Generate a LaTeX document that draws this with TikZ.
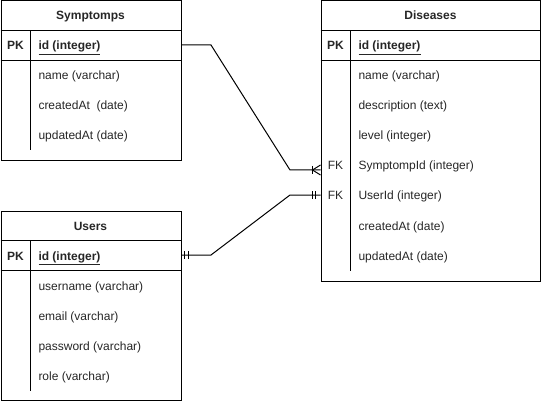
\documentclass[tikz,border=0pt]{standalone}
\usepackage{fontspec}
\setmainfont{Liberation Sans}

\begin{document}
\begin{tikzpicture}[
  x=1pt, y=-1pt,
  line width=1pt,
  every node/.style={
    font=\fontsize{12}{14}\selectfont, text=black!85,
  },
  table/.style={
    draw, rectangle, inner sep=0pt, anchor=north west,
  },
  title/.style={
    anchor=base, inner sep=0pt, font=\fontsize{12}{14}\selectfont\bfseries,
  },
  key/.style={
    anchor=base, inner sep=0pt,
  },
  pkey/.style={
    key, font=\fontsize{12}{14}\selectfont\bfseries,
  },
  field/.style={
    anchor=base west, inner sep=0pt,
  },
  pfield/.style={
    field, font=\fontsize{12}{14}\selectfont\bfseries,
  }
  ]
  \useasboundingbox (0,0) rectangle (541,401);

  % Symptomps
  \node[table, minimum width=180pt, minimum height=160pt] (symptomps) at (0.5,0.5) {};
  \draw (symptomps.north west) ++(0,30) -- ++(180,0) ++(-180,30) -- ++(180,0);
  \draw (symptomps.north west) ++(30,30) -- ++(0,120);
  \node[title] (symptomps-title) at (90.5,20) {Symptomps};
  \node[pkey] (symptomps-pk) at (15.5,50) {PK};
  \node[pfield] (symptomps-id) at (38,50) {\underline{id (integer)}};
  \node[field] (symptomps-name) at (38,80) {name (varchar)};
  \node[field] (symptomps-created) at (38,110) {createdAt\ \ (date)};
  \node[field] (symptomps-updated) at (38,140) {updatedAt (date)};

  % Users
  \node[table, minimum width=180pt, minimum height=189.5pt] (users) at (0.5,210.5) {};
  \draw (users.north west) ++(0,30) -- ++(180,0) ++(-180,30) -- ++(180,0);
  \draw (users.north west) ++(30,30) -- ++(0,150);
  \node[title] (users-title) at (90.5,230) {Users};
  \node[pkey] (users-pk) at (15.5,260) {PK};
  \node[pfield] (users-id) at (38,260) {\underline{id (integer)}};
  \node[field] (users-username) at (38,290) {username (varchar)};
  \node[field] (users-email) at (38,320) {email (varchar)};
  \node[field] (users-password) at (38,350) {password (varchar)};
  \node[field] (users-role) at (38,380) {role (varchar)};

  % Diseases
  \node[table, minimum width=219.5pt, minimum height=280pt] (diseases) at (320.5,0.5) {};
  \draw (diseases.north west) ++(0,30) -- ++(219.5,0) ++(-219.5,30) -- ++(219.5,0);
  \draw (diseases.north west) ++(30,30) -- ++(0,240);
  \node[title] (diseases-title) at (430.5,20) {Diseases};
  \node[pkey] (diseases-pk) at (335.5,50) {PK};
  \node[pfield] (diseases-id) at (358,50) {\underline{id (integer)}};
  \node[field] (diseases-name) at (358,80) {name (varchar)};
  \node[field] (diseases-description) at (358,110) {description (text)};
  \node[field] (diseases-level) at (358,140) {level (integer)};
  \node[key] (diseases-fk1) at (335.5,170) {FK};
  \node[field] (diseases-symptompid) at (358,170) {SymptompId (integer)};
  \node[key] (diseases-fk2) at (335.5,200) {FK};
  \node[field] (diseases-userid) at (358,200) {UserId (integer)};
  \node[field] (diseases-created) at (358,230) {createdAt (date)};
  \node[field] (diseases-updated) at (358,260) {updatedAt (date)};

  % relations
  \draw ([yshift=-44.5pt]symptomps.north east) -- ++(29.5,0) -- (290,170)
    -- ([yshift=-169.5pt]diseases.north west);
  \draw ([yshift=-164.5pt]diseases.north west) -- ++(-8,5) -- ++(8,5);
  \draw ([yshift=-169.5pt]diseases.north west) ++(-8,-4) -- ++(0,8);

  \draw ([yshift=-44.5pt]users.north east) -- ++(29.5,0) -- (290,195)
    -- ([yshift=-194.5pt]diseases.north west);
  \draw ([yshift=-44.5pt]users.north east) ++(3,-4) -- ++(0,8) ++(4,0) -- ++(0,-8);
  \draw ([yshift=-194.5pt]diseases.north west) ++(-8,-4) -- ++(0,8) ++(3,0) -- ++(0,-8);
\end{tikzpicture}
\end{document}
